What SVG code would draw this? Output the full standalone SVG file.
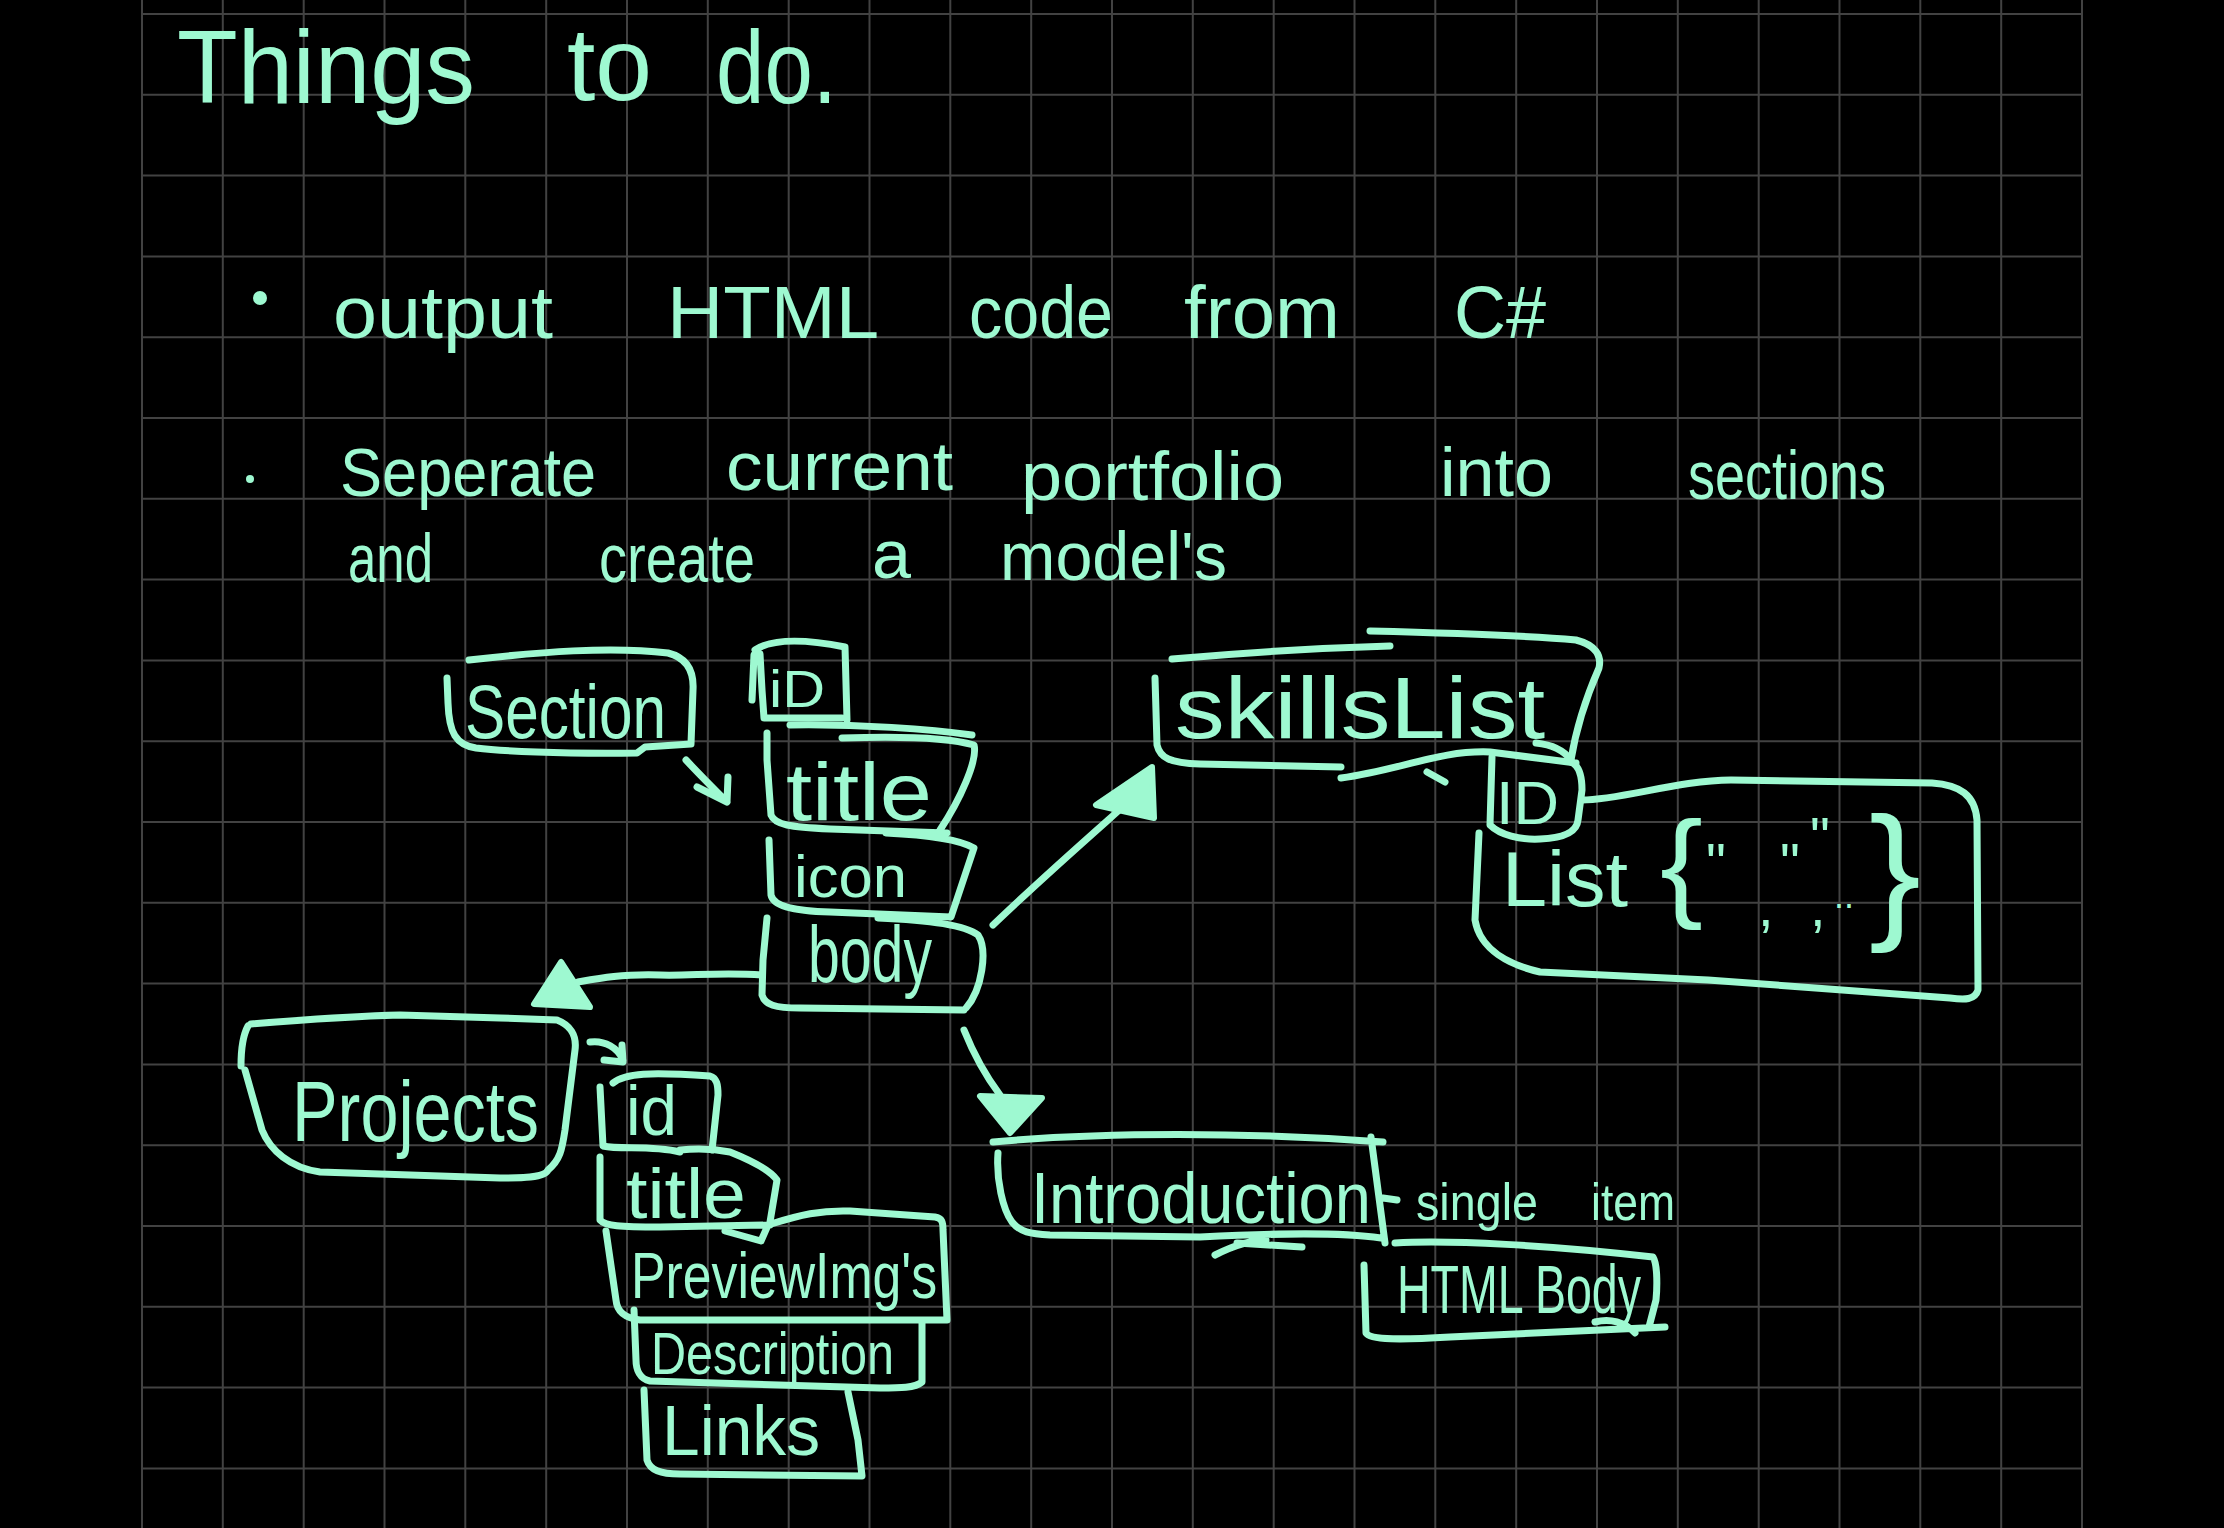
<svg xmlns="http://www.w3.org/2000/svg" width="2224" height="1528" viewBox="0 0 2224 1528">
<defs>
<style>
.ink{fill:none;stroke:#9ef9d1;stroke-width:7;stroke-linecap:round;stroke-linejoin:round}
.head{fill:#9ef9d1;stroke:#9ef9d1;stroke-width:6;stroke-linejoin:round}
.dot{fill:#9ef9d1}
text{font-family:"Liberation Sans",Arial,sans-serif;fill:#9ef9d1}
.grid{stroke:#424242;stroke-width:2;fill:none}
</style>
</defs>
<rect width="2224" height="1528" fill="#000"/>
<path class="grid" d="M142 0V1528M222.8 0V1528M303.7 0V1528M384.5 0V1528M465.3 0V1528M546.2 0V1528M627 0V1528M707.8 0V1528M788.7 0V1528M869.5 0V1528M950.3 0V1528M1031.2 0V1528M1112 0V1528M1192.8 0V1528M1273.7 0V1528M1354.5 0V1528M1435.3 0V1528M1516.2 0V1528M1597 0V1528M1677.8 0V1528M1758.7 0V1528M1839.5 0V1528M1920.3 0V1528M2001.2 0V1528M2082 0V1528M142 14H2082M142 94.8H2082M142 175.6H2082M142 256.4H2082M142 337.2H2082M142 418H2082M142 498.8H2082M142 579.6H2082M142 660.4H2082M142 741.2H2082M142 822H2082M142 902.8H2082M142 983.6H2082M142 1064.4H2082M142 1145.2H2082M142 1226H2082M142 1306.8H2082M142 1387.6H2082M142 1468.4H2082"/>

<g id="heading">
<text x="177" y="103" font-size="104" textLength="298" lengthAdjust="spacingAndGlyphs">Things</text>
<text x="567" y="100" font-size="104" textLength="85" lengthAdjust="spacingAndGlyphs">to</text>
<text x="716" y="103" font-size="104" textLength="121" lengthAdjust="spacingAndGlyphs">do.</text>
</g>

<g id="bullet-1">
<circle class="dot" cx="260" cy="298" r="7"/>
<text x="333" y="338" font-size="74" textLength="220" lengthAdjust="spacingAndGlyphs">output</text>
<text x="667" y="338" font-size="74" textLength="212" lengthAdjust="spacingAndGlyphs">HTML</text>
<text x="969" y="338" font-size="74" textLength="144" lengthAdjust="spacingAndGlyphs">code</text>
<text x="1184" y="338" font-size="74" textLength="156" lengthAdjust="spacingAndGlyphs">from</text>
<text x="1454" y="338" font-size="74" textLength="92" lengthAdjust="spacingAndGlyphs">C#</text>
</g>

<g id="bullet-2">
<circle class="dot" cx="250" cy="479" r="4"/>
<text x="340" y="496" font-size="68" textLength="256" lengthAdjust="spacingAndGlyphs">Seperate</text>
<text x="726" y="490" font-size="68" textLength="227" lengthAdjust="spacingAndGlyphs">current</text>
<text x="1021" y="500" font-size="68" textLength="263" lengthAdjust="spacingAndGlyphs">portfolio</text>
<text x="1440" y="496" font-size="68" textLength="113" lengthAdjust="spacingAndGlyphs">into</text>
<text x="1688" y="499" font-size="68" textLength="198" lengthAdjust="spacingAndGlyphs">sections</text>
<text x="348" y="582" font-size="68" textLength="85" lengthAdjust="spacingAndGlyphs">and</text>
<text x="599" y="582" font-size="68" textLength="156" lengthAdjust="spacingAndGlyphs">create</text>
<text x="872" y="578" font-size="68" textLength="39" lengthAdjust="spacingAndGlyphs">a</text>
<text x="1000" y="580" font-size="68" textLength="227" lengthAdjust="spacingAndGlyphs">model's</text>
</g>

<g id="section">
<path class="ink" d="M469 660C540 652 610 646 668 653C688 658 694 672 693 690L691 744L645 747L637 753C560 754 500 751 476 748C456 745 449 733 448 703L447 678"/>
<text x="465" y="738" font-size="76" textLength="201" lengthAdjust="spacingAndGlyphs">Section</text>
</g>

<g id="section-id">
<path class="ink" d="M760 654L762 690L764 718L842 718M755 650C770 640 800 638 845 647L847 720M752 700L754 655"/>
<text x="769" y="707" font-size="52" textLength="56" lengthAdjust="spacingAndGlyphs">iD</text>
</g>

<g id="section-title">
<path class="ink" d="M790 725C860 724 930 729 972 735M842 738C900 736 950 738 974 745C978 760 960 800 940 830M767 733L767 760L771 815C775 825 790 827 830 829L947 833"/>
<text x="786" y="820" font-size="82" textLength="146" lengthAdjust="spacingAndGlyphs">title</text>
</g>

<g id="section-icon">
<path class="ink" d="M769 840L771 895C773 905 790 911 830 912L951 917L974 848C960 840 930 835 886 833"/>
<text x="794" y="897" font-size="60" textLength="113" lengthAdjust="spacingAndGlyphs">icon</text>
</g>

<g id="section-body">
<path class="ink" d="M878 918C930 920 965 925 978 935C988 950 982 990 966 1008M767 918L763 960L762 995C765 1005 775 1008 800 1008L964 1010"/>
<text x="808" y="982" font-size="80" textLength="124" lengthAdjust="spacingAndGlyphs">body</text>
</g>

<g id="skillslist">
<path class="ink" d="M1172 659C1250 652 1320 648 1390 646M1370 631C1450 633 1520 635 1576 640C1595 645 1602 655 1599 668C1585 700 1575 735 1571 760M1155 678L1157 745C1160 758 1170 763 1200 764L1341 767M1341 778C1400 770 1440 750 1490 752L1576 763"/>
<text x="1175" y="738" font-size="88" textLength="370" lengthAdjust="spacingAndGlyphs">skillsList</text>
</g>

<g id="skills-id">
<path class="ink" d="M1492 757L1490 825C1500 835 1520 840 1540 839C1565 838 1577 832 1578 820L1582 790C1582 775 1578 765 1571 762M1536 743C1555 745 1565 752 1571 760M1427 772L1445 782"/>
<text x="1496" y="824" font-size="62" textLength="63" lengthAdjust="spacingAndGlyphs">ID</text>
</g>

<g id="skills-list">
<path class="ink" d="M1582 800C1620 800 1680 780 1731 780L1932 783C1960 785 1975 795 1977 820L1978 990C1975 1000 1965 1000 1950 998L1708 980L1540 972C1510 965 1480 950 1475 920L1479 833"/>
<text x="1502" y="906" font-size="78" textLength="126" lengthAdjust="spacingAndGlyphs">List</text>
<text x="1660" y="905" font-size="120" textLength="43" lengthAdjust="spacingAndGlyphs">{</text>
<text font-size="56"><tspan x="1706" y="882">"</tspan><tspan x="1758" y="926">,</tspan><tspan x="1780" y="882">"</tspan><tspan x="1810" y="856">"</tspan><tspan x="1810" y="926">,</tspan><tspan x="1834" y="908" font-size="36">..</tspan></text>
<text x="1869" y="922" font-size="150" textLength="52" lengthAdjust="spacingAndGlyphs">}</text>
</g>

<g id="projects">
<path class="ink" d="M251 1024C300 1020 360 1016 400 1015L500 1018L557 1020C570 1025 577 1035 575 1050L565 1130C562 1150 560 1160 548 1170C545 1178 520 1178 500 1178L320 1172C290 1168 270 1150 262 1130L245 1070M248 1026C243 1035 241 1050 241 1066"/>
<text x="292" y="1141" font-size="85" textLength="247" lengthAdjust="spacingAndGlyphs">Projects</text>
</g>

<g id="projects-id">
<path class="ink" d="M613 1083C625 1073 650 1072 710 1076C717 1078 718 1085 718 1095L712 1150M600 1087L603 1146C620 1150 650 1145 680 1152"/>
<text x="626" y="1135" font-size="70" textLength="51" lengthAdjust="spacingAndGlyphs">id</text>
</g>

<g id="projects-title">
<path class="ink" d="M680 1150C700 1148 720 1150 730 1152C750 1160 770 1170 777 1180L770 1222M600 1157L600 1220C605 1226 620 1227 660 1227L770 1225M725 1231L761 1241L768 1225"/>
<text x="626" y="1218" font-size="70" textLength="120" lengthAdjust="spacingAndGlyphs">title</text>
</g>

<g id="projects-preview">
<path class="ink" d="M771 1224C800 1215 820 1210 850 1211L935 1217C942 1218 943 1222 943 1230L947 1320L640 1320C625 1318 617 1312 616 1300L606 1231"/>
<text x="631" y="1298" font-size="64" textLength="306" lengthAdjust="spacingAndGlyphs">PreviewImg's</text>
</g>

<g id="projects-description">
<path class="ink" d="M922 1322L922 1382C915 1388 900 1388 880 1388L650 1381C640 1379 636 1370 636 1360L634 1310"/>
<text x="651" y="1374" font-size="60" textLength="243" lengthAdjust="spacingAndGlyphs">Description</text>
</g>

<g id="projects-links">
<path class="ink" d="M644 1390L647 1460C650 1470 660 1474 680 1474L862 1476L858 1440L848 1392"/>
<text x="662" y="1455" font-size="70" textLength="158" lengthAdjust="spacingAndGlyphs">Links</text>
</g>

<g id="introduction">
<path class="ink" d="M993 1142C1100 1132 1250 1132 1383 1142M1371 1137L1385 1243M998 1153C996 1180 1003 1210 1012 1222C1020 1232 1030 1234 1050 1235L1200 1237C1280 1233 1340 1232 1381 1238M1215 1255C1235 1245 1250 1240 1266 1240M1237 1243L1302 1247M1383 1198L1397 1200"/>
<text x="1031" y="1223" font-size="72" textLength="340" lengthAdjust="spacingAndGlyphs">Introduction</text>
<text x="1416" y="1220" font-size="52" textLength="122" lengthAdjust="spacingAndGlyphs">single</text>
<text x="1591" y="1220" font-size="52" textLength="84" lengthAdjust="spacingAndGlyphs">item</text>
</g>

<g id="html-body">
<path class="ink" d="M1395 1243C1450 1240 1550 1245 1653 1257C1658 1265 1657 1290 1656 1300L1649 1327M1364 1265L1366 1333C1370 1340 1400 1340 1450 1337L1665 1327M1595 1322C1610 1318 1625 1322 1635 1333"/>
<text x="1397" y="1313" font-size="68" textLength="244" lengthAdjust="spacingAndGlyphs">HTML Body</text>
</g>

<g id="connectors">
<path class="ink" d="M686 760C700 775 715 790 727 802M697 787L727 802L728 777"/>
<path class="ink" d="M762 975C720 972 690 976 660 975C620 974 600 978 578 982"/>
<polygon class="head" points="561,962 534,1004 590,1007"/>
<path class="ink" d="M993 925C1040 880 1080 845 1125 805"/>
<polygon class="head" points="1152,767 1096,805 1154,818"/>
<path class="ink" d="M964 1030C972 1050 985 1075 1000 1095"/>
<polygon class="head" points="980,1096 1042,1098 1010,1133"/>
<path class="ink" d="M590 1042C605 1040 618 1048 623 1060M604 1060L623 1062L622 1045"/>
</g>
</svg>
